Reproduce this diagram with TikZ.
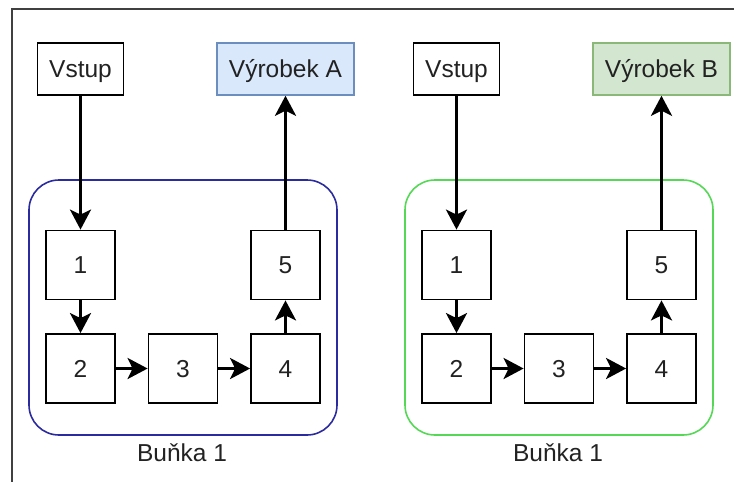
\documentclass[tikz,border=0pt]{standalone}
\usepackage{fontspec}
\setmainfont{Liberation Sans}
\usepackage{tikz}
\usetikzlibrary{positioning, arrows.meta}

\definecolor{textgray}{HTML}{222222}
\definecolor{modrarama}{HTML}{2B2BA0}
\definecolor{zelenarama}{HTML}{55D855}
\definecolor{modrevypln}{HTML}{DAE8FC}
\definecolor{modrecara}{HTML}{6C8EBF}
\definecolor{zelenevypln}{HTML}{D3E6CF}
\definecolor{zelenecara}{HTML}{8AB879}

\tikzset{
  popis/.style={text=textgray, text height=17.5pt, text depth=0pt},
  krok/.style={popis, draw=black, line width=1.8, minimum width=69, minimum height=69,
    inner sep=0, fill=white},
  vstup/.style={krok, minimum width=86, minimum height=52},
  vyrobek/.style={popis, draw=#1, line width=1.5, minimum width=137, minimum height=52,
    inner sep=0},
  sipka/.style={line width=3, -{Stealth[length=20, width=21, inset=5]}},
  bunka/.style={line width=1.6, rounded corners=30},
}

\begin{document}
\begin{tikzpicture}[x=1pt, y=-1pt, font=\fontsize{24.5}{29}\selectfont]
        \useasboundingbox (0,0) rectangle (734,482);
        % Rámeček kolem celého obrázku
        \draw[line width=2, draw=black!75] (12,482) -- (12,9) -- (734,9);
        % Buňka vlevo
        \draw[bunka, draw=modrarama] (29,180) rectangle (337,435);
        \node[popis] (popisA) at (182,453) {Buňka 1};
        \node[vstup] (vstupA) at (80.5,69) {Vstup};
        \node[vyrobek=modrecara, fill=modrevypln] (vyrobekA) at (285.5,69) {Výrobek A};
        \node[krok] (a1) at (80.5,265) {1};
        \node[krok] (a2) at (80.5,368.5) {2};
        \node[krok] (a3) at (183,368.5) {3};
        \node[krok] (a4) at (285.5,368.5) {4};
        \node[krok] (a5) at (285.5,265) {5};
        \draw[sipka] (vstupA) -- (a1);
        \draw[sipka] (a1) -- (a2);
        \draw[sipka] (a2) -- (a3);
        \draw[sipka] (a3) -- (a4);
        \draw[sipka] (a4) -- (a5);
        \draw[sipka] (a5) -- (vyrobekA);
        % Buňka vpravo
        \draw[bunka, draw=zelenarama] (405,180) rectangle (713,435);
        \node[popis] (popisB) at (558,453) {Buňka 1};
        \node[vstup] (vstupB) at (456.5,69) {Vstup};
        \node[vyrobek=zelenecara, fill=zelenevypln] (vyrobekB) at (661.5,69) {Výrobek B};
        \node[krok] (b1) at (456.5,265) {1};
        \node[krok] (b2) at (456.5,368.5) {2};
        \node[krok] (b3) at (559,368.5) {3};
        \node[krok] (b4) at (661.5,368.5) {4};
        \node[krok] (b5) at (661.5,265) {5};
        \draw[sipka] (vstupB) -- (b1);
        \draw[sipka] (b1) -- (b2);
        \draw[sipka] (b2) -- (b3);
        \draw[sipka] (b3) -- (b4);
        \draw[sipka] (b4) -- (b5);
        \draw[sipka] (b5) -- (vyrobekB);
    \end{tikzpicture}
\end{document}
